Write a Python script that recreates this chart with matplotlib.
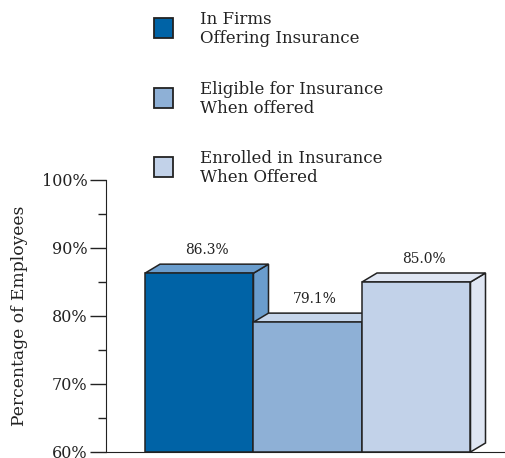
import numpy as np
import matplotlib.pyplot as plt
from matplotlib.patches import Polygon, Rectangle

# insurance coverage shares
categories = ['In Firms\nOffering Insurance',
              'Eligible for Insurance\nWhen offered',
              'Enrolled in Insurance\nWhen Offered']
values = [86.3, 79.1, 85.0]
value_labels = ['86.3%', '79.1%', '85.0%']
yticks = [60, 70, 80, 90, 100]
ytick_labels = ['60%', '70%', '80%', '90%', '100%']

front_colors = ['#0063a6', '#8eb0d6', '#c2d2e9']
side_colors = ['#6a9dcd', '#c6d6eb', '#dfe6f3']
edge = '#222222'

W, H = 506, 458
fig = plt.figure(figsize=(W / 100, H / 100), dpi=100)
plt.rcParams['font.family'] = ['DejaVu Serif']

# axes placed in pixel terms
left, right, top, bottom = 106, 505, 180, 452
ax = fig.add_axes([left / W, 1 - bottom / H, (right - left) / W, (bottom - top) / H])
ax.set_xlim(0, right - left)
ax.set_ylim(60, 100)

px_per_unit = (bottom - top) / 40.0
dx = 15
dy = 9 / px_per_unit
bar_w = 108.5
x0 = 39

for i, v in enumerate(values):
    xl = x0 + i * bar_w
    xr = xl + bar_w
    side = Polygon([(xr, 60), (xr + dx, 60 + dy), (xr + dx, v + dy), (xr, v)],
                   closed=True, facecolor=side_colors[i], edgecolor=edge, lw=1.1, zorder=3)
    topf = Polygon([(xl, v), (xl + dx, v + dy), (xr + dx, v + dy), (xr, v)],
                   closed=True, facecolor=side_colors[i], edgecolor=edge, lw=1.1, zorder=3)
    front = Rectangle((xl, 60), bar_w, v - 60, facecolor=front_colors[i],
                      edgecolor=edge, lw=1.1, zorder=3)
    for p in (side, topf, front):
        p.set_clip_on(False)
        ax.add_patch(p)
    ax.text(xl + bar_w / 2 + dx / 2, v + 23 / px_per_unit, value_labels[i],
            ha='center', va='center', fontsize=10, color='#222222')

ax.spines['top'].set_visible(False)
ax.spines['right'].set_visible(False)
ax.spines['left'].set_color(edge)
ax.spines['bottom'].set_color(edge)
ax.set_xticks([])
ax.set_yticks(yticks)
ax.set_yticklabels(ytick_labels, fontsize=11.5, color='#222222')
ax.set_yticks([65, 75, 85, 95], minor=True)
ax.tick_params(axis='y', which='major', length=11.5, width=1, color=edge, pad=2)
ax.tick_params(axis='y', which='minor', length=5.8, width=1, color=edge)
ax.set_ylabel('Percentage of Employees', fontsize=12.3, color='#222222', labelpad=10)

# legend drawn as boxes with two-line captions
box_y = [28, 98, 167]
for i, lab in enumerate(categories):
    cy = box_y[i]
    fig.add_artist(Rectangle(((154) / W, 1 - (cy + 9.5) / H), 19 / W, 19 / H,
                             transform=fig.transFigure, facecolor=front_colors[i],
                             edgecolor=edge, lw=1.3))
    fig.text(200 / W, 1 - (cy + 1) / H, lab, ha='left', va='center',
             fontsize=12, color='#222222', linespacing=1.2)

fig.savefig('out.png', dpi=100)
